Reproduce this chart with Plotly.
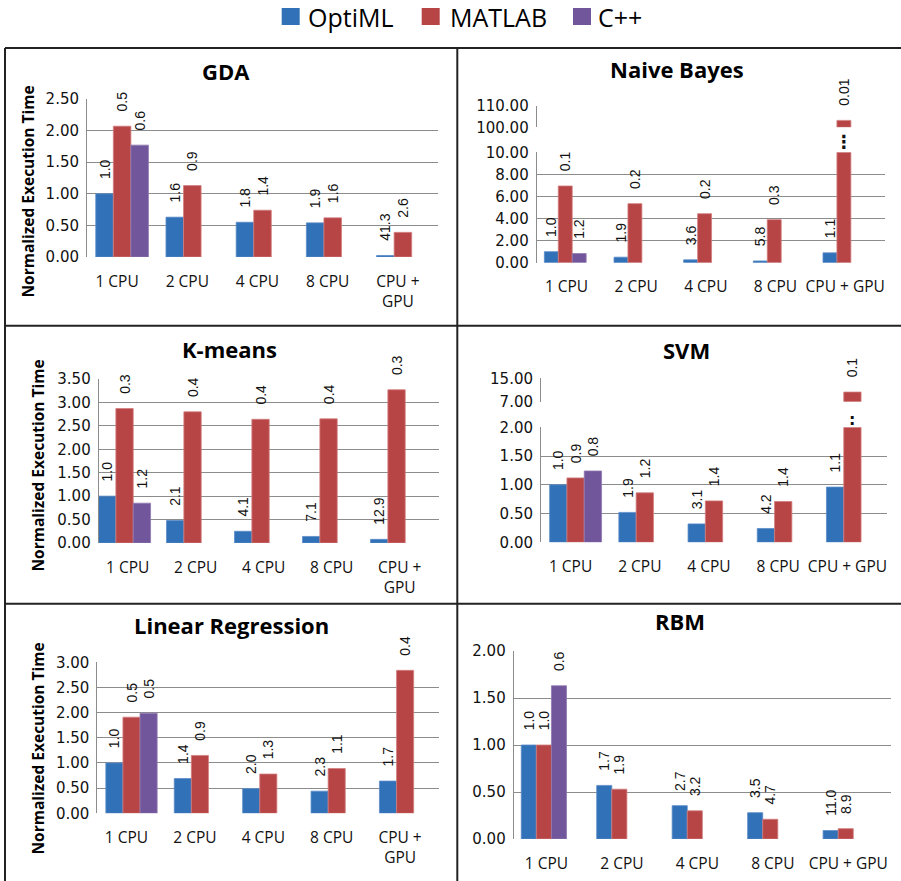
import plotly.graph_objects as go

W, H = 901, 881

categories = ["1 CPU", "2 CPU", "4 CPU", "8 CPU", "CPU + GPU"]
series_names = ["OptiML", "MATLAB", "C++"]
series_colors = ["#3171B8", "#B84545", "#72569B"]
series_edges = ["#5A8CC8", "#D27E7E", "#8F78B0"]

# ---- GDA ----
gda_optiml = [1.00, 0.63, 0.55, 0.54, 0.024]
gda_matlab = [2.07, 1.13, 0.74, 0.62, 0.39]
gda_cpp = [1.77, None, None, None, None]
gda_optiml_lbl = ["1.0", "1.6", "1.8", "1.9", "41.3"]
gda_matlab_lbl = ["0.5", "0.9", "1.4", "1.6", "2.6"]
gda_cpp_lbl = ["0.6", "", "", "", ""]

# ---- Naive Bayes (broken axis: 0-10 and 100-110) ----
nb_optiml = [1.00, 0.50, 0.26, 0.16, 0.89]
nb_matlab = [6.95, 5.35, 4.44, 3.90, 103.2]
nb_cpp = [0.83, None, None, None, None]
nb_optiml_lbl = ["1.0", "1.9", "3.6", "5.8", "1.1"]
nb_matlab_lbl = ["0.1", "0.2", "0.2", "0.3", "0.01"]
nb_cpp_lbl = ["1.2", "", "", "", ""]

# ---- K-means ----
km_optiml = [1.00, 0.48, 0.25, 0.14, 0.078]
km_matlab = [2.87, 2.80, 2.64, 2.65, 3.27]
km_cpp = [0.85, None, None, None, None]
km_optiml_lbl = ["1.0", "2.1", "4.1", "7.1", "12.9"]
km_matlab_lbl = ["0.3", "0.4", "0.4", "0.4", "0.3"]
km_cpp_lbl = ["1.2", "", "", "", ""]

# ---- SVM (broken axis: 0-2 and 7-15) ----
svm_optiml = [1.00, 0.52, 0.32, 0.24, 0.96]
svm_matlab = [1.12, 0.86, 0.72, 0.71, 10.3]
svm_cpp = [1.24, None, None, None, None]
svm_optiml_lbl = ["1.0", "1.9", "3.1", "4.2", "1.1"]
svm_matlab_lbl = ["0.9", "1.2", "1.4", "1.4", "0.1"]
svm_cpp_lbl = ["0.8", "", "", "", ""]

# ---- Linear Regression ----
lr_optiml = [1.00, 0.69, 0.49, 0.44, 0.64]
lr_matlab = [1.91, 1.15, 0.78, 0.89, 2.84]
lr_cpp = [1.99, None, None, None, None]
lr_optiml_lbl = ["1.0", "1.4", "2.0", "2.3", "1.7"]
lr_matlab_lbl = ["0.5", "0.9", "1.3", "1.1", "0.4"]
lr_cpp_lbl = ["0.5", "", "", "", ""]

# ---- RBM ----
rbm_optiml = [1.00, 0.57, 0.355, 0.28, 0.09]
rbm_matlab = [1.00, 0.53, 0.30, 0.21, 0.11]
rbm_cpp = [1.63, None, None, None, None]
rbm_optiml_lbl = ["1.0", "1.7", "2.7", "3.5", "11.0"]
rbm_matlab_lbl = ["1.0", "1.9", "3.2", "4.7", "8.9"]
rbm_cpp_lbl = ["0.6", "", "", "", ""]

Y_TITLE = "Normalized Execution Time"

NBSP = "\u00a0"
GRID = "#8C8C8C"
TICK_FONT_X = dict(family="Open Sans", size=15.5, color="#111")
TICK_FONT_Y = dict(family="DejaVu Sans", size=15, color="#111")
LABEL_FONT = dict(family="Liberation Sans", size=14, color="#111")


def px(x):
    return x / W


def py(y):
    return 1 - y / H


def ax_names(n):
    s = "" if n == 1 else str(n)
    return "x" + s, "y" + s, "xaxis" + s, "yaxis" + s


fig = go.Figure()


def add_series(n, slot, values, labels, width, shift, base=None):
    xr, yr, _, _ = ax_names(n)
    fig.add_trace(go.Bar(
        x=categories, y=values, base=base, xaxis=xr, yaxis=yr,
        name=series_names[slot],
        width=width, offset=shift - 1.5 * width + slot * width,
        marker=dict(color=series_colors[slot],
                    line=dict(color=series_edges[slot], width=0.8)),
        text=[(NBSP * 3 + t) if t else "" for t in labels],
        textposition="outside", textangle=-90, textfont=LABEL_FONT,
        constraintext="none", cliponaxis=False,
        showlegend=False, hoverinfo="skip"))


layout_axes = {}


def setup_axes(n, xdom, ydom, yrange, tickvals, ticktext, upper=False):
    xr, yr, xa, ya = ax_names(n)
    layout_axes[xa] = dict(
        domain=[px(xdom[0]), px(xdom[1])], anchor=yr, type="category",
        categoryorder="array", categoryarray=categories, range=[-0.5, 4.5],
        showgrid=False, showline=False, zeroline=False, ticks="",
        tickvals=categories, ticktext=ticktext, tickfont=TICK_FONT_X,
        ticklabelstandoff=13, ticklabelshift=-5, automargin=False,
        showticklabels=not upper, fixedrange=True)
    layout_axes[ya] = dict(
        domain=[py(ydom[0]), py(ydom[1])], anchor=xr, range=yrange,
        tickvals=tickvals, tickformat=".2f", tickfont=TICK_FONT_Y,
        showgrid=True, gridcolor=GRID, gridwidth=1,
        showline=True, linecolor=GRID, linewidth=1, automargin=False,
        zeroline=False, ticks="", ticklabelstandoff=4, fixedrange=True)


def steps(lo, hi, d):
    out, v = [], lo
    while v <= hi + 1e-9:
        out.append(round(v, 4))
        v += d
    return out


two_line = [c.replace(" + ", " +<br>") for c in categories]
one_line = categories

annotations = []


def title(text, cx, cy):
    annotations.append(dict(text=f"<b>{text}</b>", x=px(cx), y=py(cy),
                            xref="paper", yref="paper", showarrow=False,
                            xanchor="center", yanchor="middle",
                            font=dict(family="Open Sans", size=22, color="#000")))


def ytitle(cx, cy):
    annotations.append(dict(text=f"<b>{Y_TITLE}</b>", x=px(cx), y=py(cy),
                            xref="paper", yref="paper", showarrow=False,
                            textangle=-90, xanchor="center", yanchor="middle",
                            font=dict(family="Open Sans", size=15.5, color="#000")))


def simple_panel(n, data, labels, xdom, ydom, ymax, dtick, width, shift, ticktext):
    setup_axes(n, xdom, ydom, [0, ymax], steps(0, ymax, dtick), ticktext)
    for slot in range(3):
        add_series(n, slot, data[slot], labels[slot], width, shift)


def broken_panel(n_lo, n_hi, data, labels, xdom, ydom_lo, ydom_hi,
                 lo_max, lo_dtick, hi_range, width, shift, ticktext):
    setup_axes(n_lo, xdom, ydom_lo, [0, lo_max], steps(0, lo_max, lo_dtick), ticktext)
    setup_axes(n_hi, xdom, ydom_hi, hi_range, list(hi_range), ticktext, upper=True)
    for slot in range(3):
        vals, lbls = data[slot], labels[slot]
        lo_vals = [None if v is None else min(v, lo_max) for v in vals]
        lo_lbls = [l if (v is not None and v <= lo_max) else "" for v, l in zip(vals, lbls)]
        add_series(n_lo, slot, lo_vals, lo_lbls, width, shift)
        hi_vals = [v - hi_range[0] if (v is not None and v > lo_max) else None for v in vals]
        hi_lbls = [l if (v is not None and v > lo_max) else "" for v, l in zip(vals, lbls)]
        if any(v is not None for v in hi_vals):
            add_series(n_hi, slot, hi_vals, hi_lbls, width, shift, base=hi_range[0])


# GDA
simple_panel(1, [gda_optiml, gda_matlab, gda_cpp],
             [gda_optiml_lbl, gda_matlab_lbl, gda_cpp_lbl],
             (87, 438), (257, 99), 2.5, 0.5, 0.25, 0.0, two_line)
title("GDA", 226, 71)
ytitle(28, 191.5)

# Naive Bayes
broken_panel(2, 3, [nb_optiml, nb_matlab, nb_cpp],
             [nb_optiml_lbl, nb_matlab_lbl, nb_cpp_lbl],
             (536.7, 885), (262.7, 152.3), (127.3, 105.7),
             10, 2, [100, 110], 0.2, -0.09, one_line)
title("Naive Bayes", 677, 69)

# K-means
simple_panel(4, [km_optiml, km_matlab, km_cpp],
             [km_optiml_lbl, km_matlab_lbl, km_cpp_lbl],
             (98.7, 438.7), (543, 379), 3.5, 0.5, 0.255, -0.12, two_line)
title("K-means", 229, 349)
ytitle(37.5, 466)

# SVM
broken_panel(5, 6, [svm_optiml, svm_matlab, svm_cpp],
             [svm_optiml_lbl, svm_matlab_lbl, svm_cpp_lbl],
             (541, 887), (542.3, 427.3), (401.7, 378.3),
             2, 0.5, [7, 15], 0.25, 0.0, one_line)
title("SVM", 686.7, 350)

# Linear Regression
simple_panel(7, [lr_optiml, lr_matlab, lr_cpp],
             [lr_optiml_lbl, lr_matlab_lbl, lr_cpp_lbl],
             (97.3, 439.3), (813.3, 662.3), 3.0, 0.5, 0.25, 0.0, two_line)
title("Linear Regression", 231.7, 625)
ytitle(37.5, 749)

# RBM
simple_panel(8, [rbm_optiml, rbm_matlab, rbm_cpp],
             [rbm_optiml_lbl, rbm_matlab_lbl, rbm_cpp_lbl],
             (513.7, 891), (839, 651), 2.0, 0.5, 0.2, -0.10, one_line)
title("RBM", 680, 621)

# axis-break marks above the truncated bars
annotations.append(dict(text="<b>⋮</b>", xref="x2", x=4 - 0.09, yref="paper", y=py(141.5),
                        showarrow=False, xanchor="center", yanchor="middle",
                        font=dict(family="DejaVu Sans", size=18, color="#111")))
annotations.append(dict(text="<b>:</b>", xref="x5", x=4 + 0.0, yref="paper", y=py(419),
                        showarrow=False, xanchor="center", yanchor="middle",
                        font=dict(family="DejaVu Sans", size=16, color="#111")))

# legend across the top
shapes = []
legend_boxes = [(281.7, 306), (421.7, 448), (573, 596)]
for slot, (sx, tx) in enumerate(legend_boxes):
    shapes.append(dict(type="rect", xref="paper", yref="paper",
                       x0=px(sx), x1=px(sx + 18), y0=py(25), y1=py(8),
                       fillcolor=series_colors[slot], line=dict(width=0)))
    annotations.append(dict(text=series_names[slot], x=px(tx), y=py(16.5),
                            xref="paper", yref="paper", showarrow=False,
                            xanchor="left", yanchor="middle",
                            font=dict(family="Open Sans", size=25, color="#000")))

# panel frame
FRAME = dict(color="#222222", width=2)
for (x0, y0, x1, y1) in [(5, 48, 901, 48), (5, 48, 5, 881), (457.3, 48, 457.3, 881),
                         (5, 325.7, 901, 325.7), (5, 603.7, 901, 603.7)]:
    shapes.append(dict(type="line", xref="paper", yref="paper",
                       x0=px(x0), x1=px(x1), y0=py(y0), y1=py(y1), line=FRAME))

fig.update_layout(
    width=W, height=H,
    margin=dict(l=0, r=0, t=0, b=0, pad=0, autoexpand=False),
    paper_bgcolor="white", plot_bgcolor="white",
    font=dict(family="Open Sans", color="#111"),
    barmode="overlay", showlegend=False,
    annotations=annotations, shapes=shapes,
    **layout_axes)

fig.write_html("out.html", config={"displayModeBar": False})
